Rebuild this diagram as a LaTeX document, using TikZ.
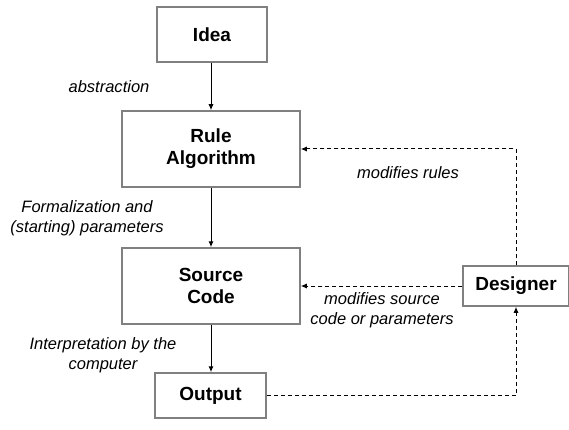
\documentclass[tikz,border=0pt]{standalone}
\usepackage{fontspec}
\setmainfont{Liberation Sans}
\usetikzlibrary{arrows.meta}
\definecolor{boxgray}{RGB}{128,128,128}
\tikzset{every path/.style={line width=1pt}, box/.style={draw=boxgray, line width=1.5pt, align=center, inner sep=0pt, font=\fontsize{19}{22}\selectfont\bfseries}, note/.style={align=center, inner sep=0pt, font=\fontsize{16.5}{20}\selectfont\itshape}, flow/.style={-{Latex[length=6pt,width=5pt]}}, back/.style={flow, dash pattern=on 4pt off 3pt}}

\begin{document}
\begin{tikzpicture}[x=1pt,y=-1pt]
   \useasboundingbox (0,0) rectangle (569,430);
   \begin{scope}
    \node[box, minimum width=110pt, minimum height=55pt] (idea) at (212,34.5) {Idea};
    \node[box, minimum width=178pt, minimum height=76pt] (rule) at (211,149) {Rule\\Algorithm};
    \node[box, minimum width=178pt, minimum height=76pt] (source) at (211,286) {Source\\Code};
    \node[box, minimum width=111pt, minimum height=45pt] (output) at (210.5,395.5) {Output};
    \node[box, minimum width=106pt, minimum height=40pt] (designer) at (516,286) {Designer};
   \end{scope}
   \begin{scope}
    \draw[flow] (idea.south -| rule.north) -- (rule.north);
    \draw[flow] (rule) -- (source);
    \draw[flow] (source.south) -- (source.south |- output.north);
    \draw[back] (designer.north) |- (rule.east);
    \draw[back] (designer.west) -- (source.east);
    \draw[back] (output.east) -| (designer.south);
   \end{scope}
   \begin{scope}
    \node[note] (abstr) at (109,87) {abstraction};
    \node[note] (formal) at (87,218) {Formalization and\\(starting) parameters};
    \node[note] (interp) at (103,355) {Interpretation by the\\computer};
    \node[note] (modrule) at (408,173) {modifies rules};
    \node[note] (modsrc) at (382,310) {modifies source\\code or parameters};
   \end{scope}
\end{tikzpicture}
\end{document}
